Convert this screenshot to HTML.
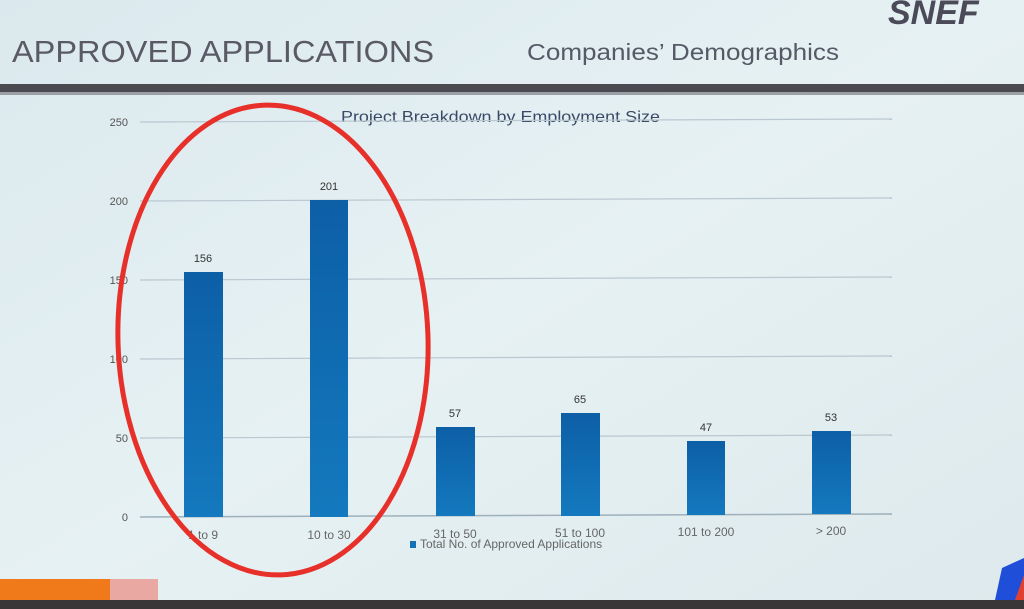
<!DOCTYPE html>
<html><head><meta charset="utf-8"><style>
html,body{margin:0;padding:0;width:1024px;height:609px;overflow:hidden;background:#dfecef}
svg{display:block}
text{font-family:"Liberation Sans",sans-serif}
</style></head><body>
<svg width="1024" height="609" viewBox="0 0 1024 609">
<defs>
<linearGradient id="bg" x1="0" y1="0" x2="1" y2="1">
<stop offset="0" stop-color="#dbe9ee"/><stop offset="0.5" stop-color="#e6f1f3"/><stop offset="1" stop-color="#dde9ec"/>
</linearGradient>
<linearGradient id="bar" x1="0" y1="0" x2="0" y2="1">
<stop offset="0" stop-color="#0d5fa6"/><stop offset="1" stop-color="#1479be"/>
</linearGradient>
</defs>
<rect width="1024" height="609" fill="url(#bg)"/>
<rect x="0" y="84" width="1024" height="8" fill="#4a4a50"/>
<rect x="0" y="92" width="1024" height="3" fill="#9aa0a4"/>
<text x="12" y="62" font-size="31" fill="#5a5a66" textLength="422" lengthAdjust="spacingAndGlyphs">APPROVED APPLICATIONS</text>
<text x="527" y="60" font-size="23" fill="#555a66" textLength="312" lengthAdjust="spacingAndGlyphs">Companies’ Demographics</text>
<text x="888" y="24" font-size="34" font-weight="bold" font-style="italic" fill="#4a4a58">SNEF</text>
<text x="341" y="122" font-size="16" fill="#3a4a66" textLength="319" lengthAdjust="spacingAndGlyphs">Project Breakdown by Employment Size</text>
<g stroke="#b9c7d0" stroke-width="1.2">
<line x1="140" y1="122" x2="892" y2="119"/>
<line x1="140" y1="201" x2="892" y2="198"/>
<line x1="140" y1="280" x2="892" y2="277"/>
<line x1="140" y1="359" x2="892" y2="356"/>
<line x1="140" y1="438" x2="892" y2="435"/>
</g>
<line x1="140" y1="517" x2="892" y2="514" stroke="#9fb0bb" stroke-width="1.5"/>
<g font-size="11" fill="#555" text-anchor="end">
<text x="128" y="126">250</text><text x="128" y="205">200</text><text x="128" y="284">150</text>
<text x="128" y="363">100</text><text x="128" y="442">50</text><text x="128" y="521">0</text>
</g>
<g fill="url(#bar)">
<rect x="184" y="272" width="39" height="245"/>
<rect x="310" y="200" width="38" height="317"/>
<rect x="436" y="427" width="39" height="89"/>
<rect x="561" y="413" width="39" height="103"/>
<rect x="687" y="441" width="38" height="74"/>
<rect x="812" y="431" width="39" height="83"/>
</g>
<g font-size="11" fill="#333" text-anchor="middle">
<text x="203" y="262">156</text><text x="329" y="190">201</text><text x="455" y="417">57</text>
<text x="580" y="403">65</text><text x="706" y="431">47</text><text x="831" y="421">53</text>
</g>
<g font-size="12" fill="#666" text-anchor="middle">
<text x="203" y="539">1 to 9</text><text x="329" y="539">10 to 30</text><text x="455" y="538">31 to 50</text>
<text x="580" y="537">51 to 100</text><text x="706" y="536">101 to 200</text><text x="831" y="535">&gt; 200</text>
</g>
<rect x="410" y="541" width="6" height="7" fill="#1570b5"/>
<text x="420" y="548" font-size="12" fill="#666">Total No. of Approved Applications</text>
<ellipse cx="273" cy="340" rx="155" ry="235" transform="rotate(-2 273 340)" fill="none" stroke="#e8302a" stroke-width="5"/>
<rect x="0" y="579" width="110" height="30" fill="#f07a1a"/>
<rect x="110" y="579" width="48" height="30" fill="#e9a8a2"/>
<rect x="0" y="600" width="1024" height="9" fill="#3a3536"/>
<polygon points="1002,568 1024,558 1024,600 995,600" fill="#1f4fd8"/>
<polygon points="1015,600 1024,575 1024,600" fill="#e04030"/>
</svg>
</body></html>
